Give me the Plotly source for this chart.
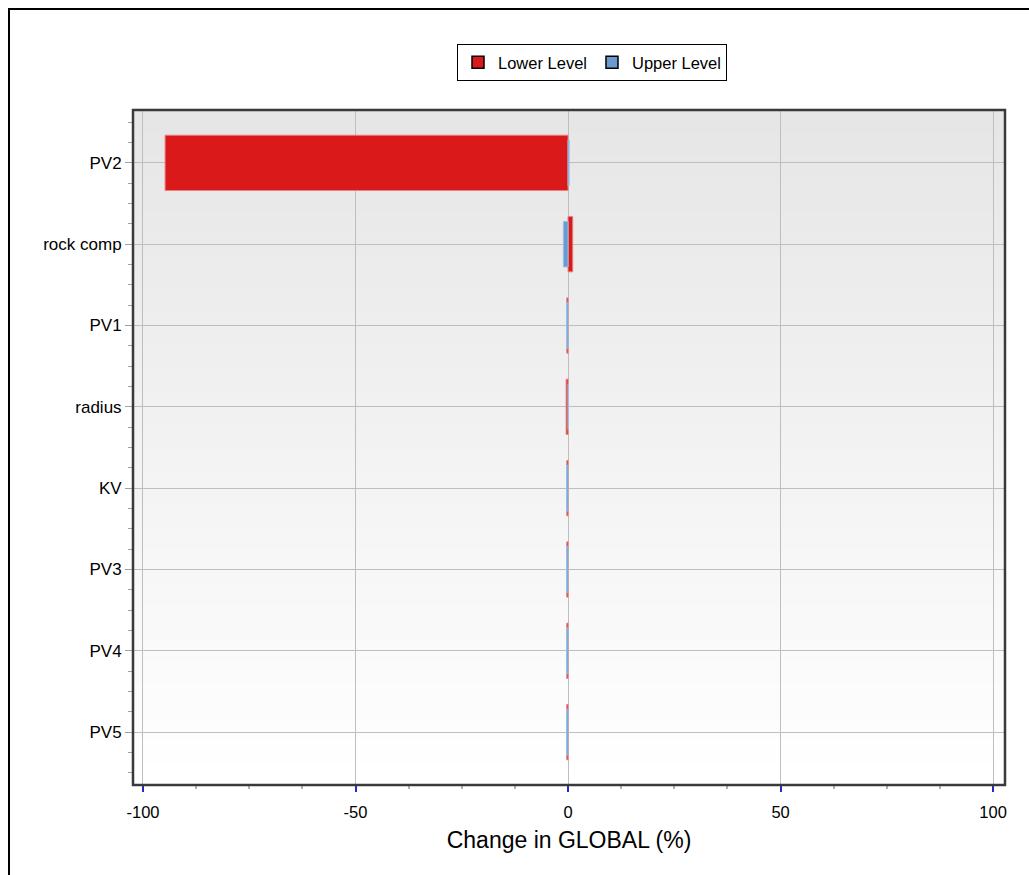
import plotly.graph_objects as go

# Sensitivity of GLOBAL to each parameter at its lower / upper level
parameters = ["PV2", "rock comp", "PV1", "radius", "KV", "PV3", "PV4", "PV5"]
lower_level = [-94.8, 1.1, -0.3, -0.45, -0.3, -0.3, -0.3, -0.3]
upper_level = [0.25, -1.1, -0.35, 0.1, -0.35, -0.35, -0.35, -0.35]

x_ticks = [-100, -50, 0, 50, 100]

RED = "#DA1A1A"
BLUE = "#6A9BD0"
FONT = "Liberation Sans, Arial, sans-serif"

W, H = 1029, 875
ML, MR, MT, MB = 133, 24, 110, 90
pw, ph = W - ML - MR, H - MT - MB

positions = list(range(len(parameters)))

fig = go.Figure()

fig.add_trace(go.Bar(
    y=positions, x=lower_level, orientation="h", width=0.68,
    marker=dict(color=RED, line=dict(color="#E88080", width=1)),
    name="Lower Level", showlegend=False, hoverinfo="x+name",
))
fig.add_trace(go.Bar(
    y=positions, x=upper_level, orientation="h", width=0.56,
    marker=dict(color=BLUE, line=dict(color="#9CBFE4", width=1)),
    name="Upper Level", showlegend=False, hoverinfo="x+name",
))
# legend entries with outlined swatches
fig.add_trace(go.Bar(y=[None], x=[None], orientation="h", name="Lower Level",
                     marker=dict(color=RED, line=dict(color="black", width=1.5))))
fig.add_trace(go.Bar(y=[None], x=[None], orientation="h", name="Upper Level",
                     marker=dict(color=BLUE, line=dict(color="black", width=1.5))))

# vertical grey gradient behind the plotting area
n_steps = 60
for i in range(n_steps):
    t = i / (n_steps - 1)
    g = int(round(255 - (255 - 230) * t))
    fig.add_shape(type="rect", xref="paper", yref="paper",
                  x0=0, x1=1, y0=i / n_steps, y1=(i + 1) / n_steps + 0.002,
                  fillcolor=f"rgb({g},{g},{g})", line=dict(width=0), layer="below")

# frame around the plotting area
fig.add_shape(type="rect", xref="paper", yref="paper", x0=0, x1=1, y0=0, y1=1,
              line=dict(color="#3A3A3A", width=2.5), fillcolor="rgba(0,0,0,0)")

# outer border of the chart panel
fig.add_shape(type="rect", xref="paper", yref="paper",
              x0=(9 - ML) / pw, x1=(W + 10 - ML) / pw,
              y0=-(H + 10 - MT - ph) / ph, y1=1 + (MT - 9) / ph,
              line=dict(color="black", width=2), fillcolor="rgba(0,0,0,0)")

fig.update_layout(
    width=W, height=H,
    margin=dict(l=ML, r=MR, t=MT, b=MB),
    paper_bgcolor="white",
    plot_bgcolor="rgba(0,0,0,0)",
    barmode="overlay",
    font=dict(family=FONT, color="black"),
    showlegend=True,
    legend=dict(
        orientation="h", x=(457 - ML) / pw, y=1 + (110 - 62.5) / ph,
        xanchor="left", yanchor="middle",
        bordercolor="black", borderwidth=1, bgcolor="white",
        font=dict(size=16.5, family=FONT), traceorder="normal",
        itemwidth=30, tracegroupgap=0,
    ),
    xaxis=dict(
        range=[-102.35, 102.8],
        tickvals=x_ticks, ticktext=[str(v) for v in x_ticks],
        ticks="outside", ticklen=6, tickwidth=1.5, tickcolor="#2A2ACC",
        ticklabelstandoff=6,
        tickfont=dict(size=16.5, family=FONT),
        minor=dict(dtick=12.5, tick0=0, ticks="outside", ticklen=3,
                   tickcolor="#B0B0B0", showgrid=False),
        showgrid=True, gridcolor="#BEBEBE", gridwidth=1,
        zeroline=False, showline=False,
        title=dict(text="Change in GLOBAL (%)", font=dict(size=23, family=FONT),
                   standoff=12),
    ),
    yaxis=dict(
        range=[len(parameters) - 1 + 0.65, -0.65],
        tickvals=positions, ticktext=parameters,
        ticks="outside", ticklen=7, tickcolor="#A0A0A0", tickwidth=1,
        tickfont=dict(size=17, family=FONT),
        minor=dict(dtick=0.25, tick0=0, ticks="outside", ticklen=4,
                   tickcolor="#A0A0A0", showgrid=False),
        showgrid=True, gridcolor="#BEBEBE", gridwidth=1,
        zeroline=False, showline=False,
    ),
)

fig.write_html("out.html")
